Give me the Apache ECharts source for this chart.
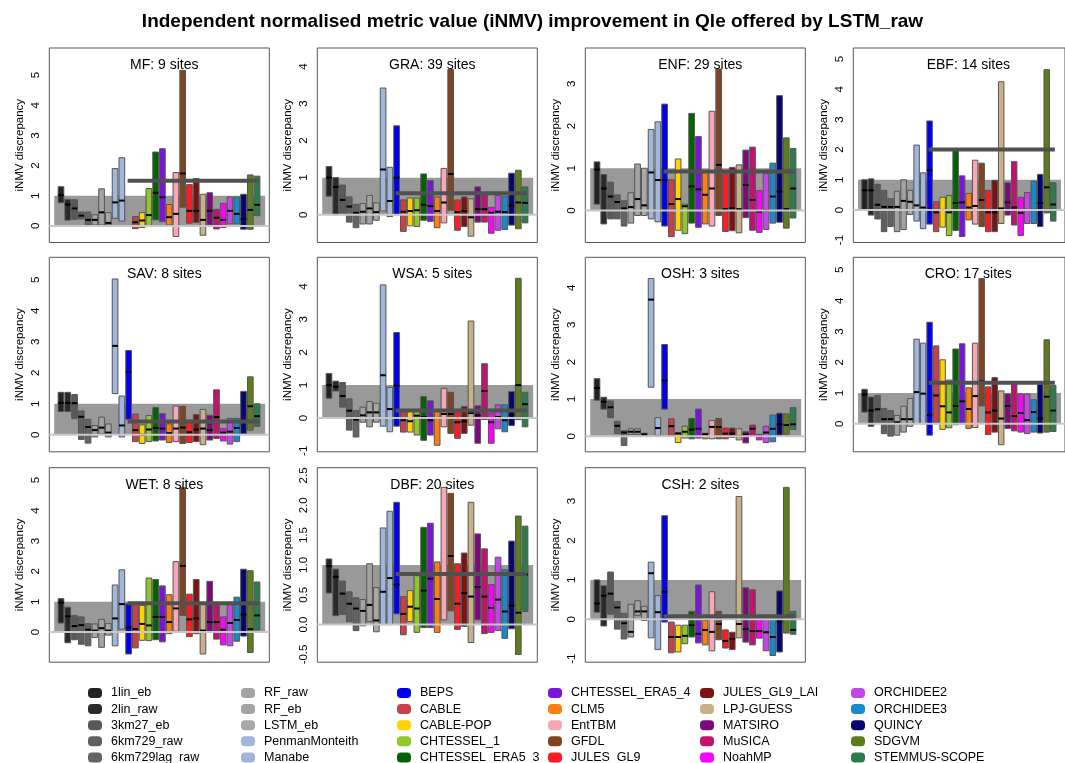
<!DOCTYPE html>
<html><head><meta charset="utf-8">
<script src="https://cdn.jsdelivr.net/npm/echarts@6/dist/echarts.min.js"></script>
<style>html,body{margin:0;padding:0;background:#fff}#c{width:1065px;height:763px}</style>
</head><body><div id="c"></div>
<script>
// ---------------- DATA ----------------
const categories = ['1lin_eb','2lin_raw','3km27_eb','6km729_raw','6km729lag_raw','RF_raw','RF_eb','LSTM_eb','PenmanMonteith','Manabe',
  'BEPS','CABLE','CABLE-POP','CHTESSEL_1','CHTESSEL_ERA5_3','CHTESSEL_ERA5_4','CLM5','EntTBM','GFDL','JULES_GL9',
  'JULES_GL9_LAI','LPJ-GUESS','MATSIRO','MuSICA','NoahMP','ORCHIDEE2','ORCHIDEE3','QUINCY','SDGVM','STEMMUS-SCOPE'];
const colors = ['#222222','#2a2a2a','#595959','#5f5f5f','#636363','#a3a3a3','#a3a3a3','#a8a8a8','#a0b6da','#a0b6da',
  '#0000ee','#c8404a','#ffd200','#90c828','#066006','#7a14dc','#ff7f0e','#f9a7b5','#7f4520','#ff1a24',
  '#7d1212','#c9b08a','#7d0a7d','#c2126e','#ff00ff','#c247e6','#1889c9','#06066e','#5b7d1c','#2b7d4c'];
const panelNames = ['MF','GRA','ENF','EBF','SAV','WSA','OSH','CRO','WET','DBF','CSH'];
const panelSites = [9,39,29,14,8,5,3,17,8,20,2];
const lstmRawLine = [1.5,0.58,0.92,2.0,0.43,0.23,null,1.33,0.95,0.85,0.08];

const MF_lo = [0.77,0.19,0.22,0.23,0.03,0.03,0.03,0.03,0.25,0.16,null,-0.09,-0.05,-0.02,0.2,0.14,0.03,-0.35,0.62,0.09,0.11,-0.31,0.03,-0.1,-0.05,0.07,0.07,-0.11,-0.11,0.34];
const MF_hi = [1.3,0.88,0.87,0.46,0.46,0.37,1.23,0.44,1.9,2.26,null,0.31,0.44,1.24,2.45,2.56,0.71,1.77,5.16,1.37,1.57,1.05,1.1,0.55,0.75,0.96,0.96,1.05,1.69,1.65];
const MF_md = [1.02,0.71,0.58,0.34,0.2,0.2,0.45,0.1,0.78,0.84,null,0.12,0.18,0.36,1.1,0.95,0.29,0.4,1.74,0.5,0.5,0.2,0.5,0.27,0.2,0.5,0.4,0.23,0.53,0.7];

const GRA_lo = [0.5,0,0,-0.2,-0.35,-0.25,-0.25,-0.15,0.1,-0.05,0,-0.45,-0.3,-0.32,-0.15,-0.18,-0.35,-0.22,0.12,-0.42,-0.32,-0.58,-0.2,-0.2,-0.5,-0.42,-0.4,-0.28,-0.38,-0.22];
const GRA_hi = [1.3,1.0,0.8,0.48,0.28,0.3,0.52,0.32,3.42,1.28,2.4,0.4,0.45,0.45,1.1,0.92,0.48,1.25,3.92,0.4,0.48,0.43,0.75,0.55,0.2,0.52,0.5,1.12,1.2,0.75];
const GRA_md = [1.0,0.75,0.4,0.22,0.05,0.08,0.17,0.07,1.22,0.37,1.0,0.08,0.1,0.12,0.27,0.23,0.1,0.33,1.1,0.07,0.1,-0.07,0.15,0.15,0.05,0.08,0.07,0.25,0.33,0.32];

const ENF_lo = [0.15,-0.32,-0.2,-0.2,-0.37,-0.3,-0.12,-0.12,-0.2,-0.27,-0.37,-0.62,-0.47,-0.55,-0.3,-0.4,-0.32,-0.37,-0.12,-0.5,-0.48,-0.53,-0.17,-0.47,-0.52,-0.45,-0.3,-0.28,-0.42,-0.18];
const ENF_hi = [1.15,0.85,0.67,0.37,0.23,0.42,1.1,1.0,1.92,2.1,2.52,0.73,1.22,0.15,2.3,1.75,0.9,2.35,3.35,0.87,1.02,1.08,1.43,1.5,0.47,0.87,1.12,2.72,1.72,1.47];
const ENF_md = [0.97,0.52,0.33,0.2,0.05,0.08,0.27,0.12,0.9,0.72,0.72,0.15,0.27,0.1,0.57,0.5,0.37,0.52,1.08,0.03,0.05,0.03,0.6,0.25,-0.03,0.0,0.33,0.45,0.03,0.52];

const EBF_lo = [0.0,-0.17,-0.3,-0.72,-0.55,-0.72,-0.65,-0.15,-0.37,-0.62,-0.47,-0.72,-0.57,-0.85,-0.68,-0.88,-0.33,-0.47,-0.55,-0.72,-0.72,-0.45,-0.17,-0.5,-0.85,-0.45,-0.45,-0.55,-0.1,-0.37];
const EBF_hi = [1.0,1.03,0.85,0.65,0.37,0.62,1.0,0.65,2.15,1.23,2.95,0.27,0.42,0.48,1.97,1.13,0.55,1.65,1.55,0.65,0.98,4.25,0.9,1.6,0.42,0.58,0.95,1.18,4.65,0.9];
const EBF_md = [0.65,0.65,0.17,0.1,0.1,0.1,0.3,0.27,0.15,0.08,1.32,-0.08,0.0,-0.08,0.23,0.25,0.08,0.13,0.33,-0.08,-0.08,0.05,0.25,0.08,-0.1,0.0,0.0,0.23,0.75,0.18];

const SAV_lo = [0.75,0.75,0.52,-0.15,-0.27,-0.07,0.03,-0.07,1.33,-0.07,0.5,-0.22,-0.28,-0.22,-0.2,-0.17,-0.25,-0.22,-0.28,-0.25,-0.22,-0.32,-0.17,-0.12,-0.2,-0.3,-0.22,0.03,0.15,0.27];
const SAV_hi = [1.37,1.37,1.3,0.77,0.5,0.3,0.57,0.35,5.03,1.25,2.72,0.67,0.32,0.62,0.88,0.68,0.35,0.93,0.92,0.47,0.65,0.82,0.63,1.45,0.2,0.53,0.53,1.4,1.87,1.0];
const SAV_md = [1.03,1.03,1.02,0.58,0.25,0.15,0.23,0.07,2.87,0.3,2.03,0.15,0.0,0.17,0.22,0.2,0.05,0.2,0.23,0.08,0.17,0.2,0.15,0.57,0.07,0.1,0.22,0.45,0.92,0.6];

const WSA_lo = [0.6,0.82,0.33,-0.37,-0.58,-0.13,-0.27,-0.13,-0.25,-0.42,-0.25,-0.43,-0.43,-0.52,-0.68,-0.52,-0.83,-0.27,-0.47,-0.62,-0.47,-0.22,-0.77,-0.05,-0.77,-0.33,-0.42,-0.23,-0.05,-0.27];
const WSA_hi = [1.35,1.12,1.08,0.58,0.22,0.33,0.5,0.45,4.05,0.93,2.6,0.25,0.2,0.2,0.65,0.52,0.22,0.9,0.78,0.2,0.35,2.95,0.37,1.65,0.15,0.4,0.4,0.8,4.25,0.78];
const WSA_md = [1.0,0.95,0.67,0.22,-0.05,0.08,0.17,0.17,1.3,0.27,0.98,-0.07,-0.1,0.07,0.03,-0.07,0.0,0.12,0.12,-0.13,-0.1,0.15,0.08,0.82,-0.13,0.03,-0.07,0.1,1.0,0.42];

const OSH_lo = [0.97,0.73,0.5,0.07,-0.25,0.05,0.05,0.02,1.32,0.02,0.73,0.02,-0.17,-0.05,-0.07,-0.05,-0.07,-0.07,-0.07,-0.07,-0.03,-0.1,-0.18,0.02,-0.1,-0.17,-0.15,0.03,0.05,0.18];
const OSH_hi = [1.55,1.05,0.95,0.4,0.15,0.2,0.2,0.08,4.25,0.5,2.47,0.47,0.1,0.27,0.48,0.73,0.08,0.42,0.48,0.22,0.22,0.2,0.12,0.3,0.05,0.27,0.57,0.62,0.6,0.77];
const OSH_md = [1.3,0.93,0.78,0.28,0.1,0.12,0.12,0.05,3.68,0.22,1.5,0.27,0.07,0.12,0.18,0.2,0.05,0.25,0.25,0.07,0.07,0.0,0.05,0.2,0.0,0.1,0.2,0.32,0.3,0.32];

const CRO_lo = [0.38,-0.08,0.03,-0.32,-0.4,-0.37,-0.27,-0.08,0.0,0.0,-0.37,0.05,-0.18,-0.13,-0.03,0.0,-0.15,-0.12,0.58,-0.35,-0.27,-0.68,-0.15,-0.23,-0.27,-0.32,-0.27,-0.3,-0.27,-0.25];
const CRO_hi = [1.12,0.87,0.92,0.5,0.43,0.27,0.57,0.82,2.75,2.62,3.3,2.53,2.08,1.42,2.43,2.6,1.17,2.62,4.72,1.2,1.5,1.07,0.97,1.3,0.97,0.97,0.78,1.28,2.73,1.25];
const CRO_md = [0.95,0.43,0.47,0.15,0.15,0.05,0.15,0.15,1.03,0.98,0.28,0.92,0.57,0.37,0.58,0.73,0.48,0.9,1.38,0.37,0.43,0.17,0.58,0.25,0.35,0.12,0.38,0.17,0.88,0.43];

const WET_lo = [0.3,-0.35,-0.25,-0.4,-0.45,-0.18,-0.5,-0.1,-0.45,0.1,-0.72,-0.52,-0.27,-0.28,-0.25,-0.32,-0.05,0.03,0.55,-0.15,-0.05,-0.72,0.03,-0.23,-0.42,-0.45,-0.3,-0.13,-0.67,0.07];
const WET_hi = [1.1,0.82,0.55,0.5,0.28,0.27,0.42,0.28,1.55,2.05,0.93,0.93,0.88,1.78,1.73,1.52,1.23,2.32,4.75,1.25,1.73,0.95,1.67,0.9,0.5,0.9,1.15,2.07,2.02,1.65];
const WET_md = [0.97,0.52,0.2,0.23,0.08,0.05,0.13,0.05,0.45,0.92,0.15,0.1,0.27,0.22,0.5,0.5,0.33,0.78,2.18,0.42,0.45,0.05,0.33,0.33,0.08,0.3,0.4,0.58,0.1,0.55];

const DBF_lo = [0.53,0.15,0.17,0.05,-0.1,-0.02,0.05,-0.12,0.0,0.0,0.18,-0.17,0.05,-0.13,-0.05,-0.05,-0.13,0.08,0.23,-0.08,-0.03,-0.3,0.08,-0.15,-0.13,-0.1,-0.23,-0.07,-0.5,0.22];
const DBF_hi = [1.1,0.93,0.73,0.55,0.45,0.42,1.02,0.62,1.62,1.9,2.05,0.47,0.57,0.82,1.63,1.7,1.05,2.3,2.2,1.02,1.2,2.05,1.52,1.27,0.67,1.13,0.92,1.4,1.82,1.65];
const DBF_md = [0.98,0.8,0.52,0.35,0.27,0.23,0.33,0.07,0.55,0.78,0.67,0.18,0.3,0.27,0.57,0.77,0.43,0.85,1.15,0.35,0.53,0.47,0.63,0.47,0.28,0.42,0.22,0.32,0.2,0.84];

const CSH_lo = [0.18,-0.17,0.13,-0.25,-0.5,-0.45,0.1,-0.03,-0.47,-0.77,-0.07,-0.85,-0.83,-0.62,-0.45,-0.6,-0.65,-0.8,-0.52,-0.73,-0.77,-0.47,-0.58,-0.65,-0.48,-0.8,-0.92,-0.83,-0.35,-0.38];
const CSH_hi = [1.0,0.85,1.2,0.45,0.15,0.38,0.47,0.33,1.45,0.6,2.63,-0.07,-0.15,-0.15,0.2,0.87,-0.03,0.7,0.2,-0.27,-0.33,3.12,0.8,0.75,0.03,0.03,0.03,0.72,3.35,0.2];
const CSH_md = [0.4,0.6,0.65,0.3,-0.1,-0.32,0.2,0.2,1.17,0.18,0.7,-0.45,-0.45,-0.42,-0.15,-0.37,-0.27,-0.32,-0.12,-0.55,-0.5,-0.12,-0.25,-0.3,-0.3,-0.33,-0.45,-0.05,0.08,-0.27];

const yTickValues = [[0,1,2,3,4,5],[0,1,2,3,4],[0,1,2,3],[-1,0,1,2,3,4,5],[0,1,2,3,4,5],[-1,0,1,2,3,4],
  [0,1,2,3,4],[0,1,2,3,4,5],[0,1,2,3,4,5],[-0.5,0,0.5,1,1.5,2,2.5],[-1,0,1,2,3]];

// ---------------- LAYOUT ----------------
const lowArrays = [MF_lo,GRA_lo,ENF_lo,EBF_lo,SAV_lo,WSA_lo,OSH_lo,CRO_lo,WET_lo,DBF_lo,CSH_lo];
const highArrays = [MF_hi,GRA_hi,ENF_hi,EBF_hi,SAV_hi,WSA_hi,OSH_hi,CRO_hi,WET_hi,DBF_hi,CSH_hi];
const medArrays = [MF_md,GRA_md,ENF_md,EBF_md,SAV_md,WSA_md,OSH_md,CRO_md,WET_md,DBF_md,CSH_md];
const yRange = [[-0.55,5.9],[-0.75,4.5],[-0.76,3.85],[-1.08,5.37],[-0.55,5.73],[-1.03,4.89],[-0.42,4.82],[-0.91,5.41],[-0.99,5.41],[-0.63,2.63],[-1.09,3.85]];
const colLeft = [49.3, 317.3, 585.3, 853.3];
const rowTop = [48, 257.3, 467.7];
const boxW = 220, boxH = 194.5;
const X_MIN = -1.73, X_MAX = 30.81;
const FONT = '"Liberation Sans", Arial, Helvetica, sans-serif';

const chart = echarts.init(document.getElementById('c'));
const grids = [], xAxes = [], yAxes = [], series = [], titles = [];

titles.push({
  text: 'Independent normalised metric value (iNMV) improvement in Qle offered by LSTM_raw',
  left: 'center', top: 7,
  textStyle: {fontSize: 19, fontWeight: 'bold', fontFamily: FONT, color: '#000'}
});

panelNames.forEach((name, i) => {
  const col = i % 4, row = Math.floor(i / 4);
  const left = colLeft[col], top = rowTop[row];
  grids.push({left: left, top: top, width: boxW, height: boxH, show: true,
    borderColor: '#555', borderWidth: 1, backgroundColor: 'transparent', containLabel: false});
  xAxes.push({gridIndex: i, type: 'value', min: X_MIN, max: X_MAX, show: false});
  const ticks = yTickValues[i];
  const isHalf = name === 'DBF';
  yAxes.push({
    gridIndex: i, type: 'value', min: yRange[i][0], max: yRange[i][1],
    name: 'iNMV discrepancy', nameLocation: 'middle', nameGap: 23, nameRotate: 90,
    nameTextStyle: {fontSize: 11.5, fontFamily: FONT, color: '#000'},
    axisLine: {show: false}, splitLine: {show: false},
    axisTick: {show: false},
    axisLabel: {customValues: ticks, rotate: 90, margin: 7, fontSize: 11.5, fontFamily: FONT, color: '#000',
      formatter: v => isHalf ? Number(v).toFixed(1) : String(Math.round(v))}
  });
  titles.push({text: name + ': ' + panelSites[i] + ' sites', left: left + boxW / 2, top: top + 5,
    textAlign: 'center', textStyle: {fontSize: 14, fontWeight: 'normal', fontFamily: FONT, color: '#000'}});

  // grey reference band 0..1
  series.push({
    type: 'custom', xAxisIndex: i, yAxisIndex: i, silent: true, z: 1, data: [[0, 1]],
    renderItem: (params, api) => {
      const p1 = api.coord([-1.0, api.value(1)]);
      const p0 = api.coord([30.2, api.value(0)]);
      return {type: 'rect', shape: {x: p1[0], y: p1[1], width: p0[0] - p1[0], height: p0[1] - p1[1]},
        style: {fill: '#999999'}};
    }
  });

  // range bars with medians
  const data = [];
  for (let k = 0; k < categories.length; k++) {
    if (lowArrays[i][k] == null) continue;
    data.push([k, lowArrays[i][k], highArrays[i][k], medArrays[i][k]]);
  }
  series.push({
    type: 'custom', name: name + ' bars', xAxisIndex: i, yAxisIndex: i, z: 2, silent: true,
    encode: {x: 0, y: [1, 2]}, data: data,
    renderItem: (params, api) => {
      const k = api.value(0);
      const pLo = api.coord([k, api.value(1)]);
      const pHi = api.coord([k, api.value(2)]);
      const pMd = api.coord([k, api.value(3)]);
      const w = api.size([1, 0])[0] * 0.84;
      return {type: 'group', children: [
        {type: 'rect', shape: {x: pLo[0] - w / 2, y: pHi[1], width: w, height: pLo[1] - pHi[1]},
          style: {fill: colors[k], stroke: '#555', lineWidth: 1}},
        {type: 'line', shape: {x1: pMd[0] - w / 2, y1: pMd[1], x2: pMd[0] + w / 2, y2: pMd[1]},
          style: {stroke: '#000', lineWidth: 2}}
      ]};
    }
  });

  // light zero line across panel
  series.push({
    type: 'custom', xAxisIndex: i, yAxisIndex: i, silent: true, z: 3, data: [[0]],
    renderItem: (params, api) => {
      const a = api.coord([X_MIN, api.value(0)]);
      const b = api.coord([X_MAX, api.value(0)]);
      return {type: 'line', shape: {x1: a[0], y1: a[1], x2: b[0], y2: b[1]}, style: {stroke: '#c8c8c8', lineWidth: 2}};
    }
  });

  // LSTM_raw reference line
  if (lstmRawLine[i] != null) {
    series.push({
      type: 'line', xAxisIndex: i, yAxisIndex: i, silent: true, z: 4, symbol: 'none',
      data: [[9.85, lstmRawLine[i]], [29.25, lstmRawLine[i]]],
      lineStyle: {color: '#505050', width: 4}, animation: false
    });
  }
});

// legend entries (series carrying colour only)
categories.forEach((c, k) => {
  series.push({type: 'bar', name: c, xAxisIndex: 0, yAxisIndex: 0, data: [],
    itemStyle: {color: colors[k], opacity: 1}});
});
const legendLeft = [88, 241, 397, 548, 700, 851];
const legends = categories.map((c, k) => ({
  data: [c], orient: 'vertical', left: legendLeft[Math.floor(k / 5)], top: 686.5 + (k % 5) * 16.1,
  padding: 0, itemWidth: 14, itemHeight: 10, selectedMode: false,
  icon: 'path://M4,0H10A4,4,0,0,1,14,4V6A4,4,0,0,1,10,10H4A4,4,0,0,1,0,6V4A4,4,0,0,1,4,0Z',
  textStyle: {fontSize: 12.5, fontFamily: FONT, color: '#000', padding: [0, 0, 0, 4]}
}));

chart.setOption({
  animation: false,
  backgroundColor: '#fff',
  title: titles,
  grid: grids, xAxis: xAxes, yAxis: yAxes,
  legend: legends,
  series: series
});
</script></body></html>
